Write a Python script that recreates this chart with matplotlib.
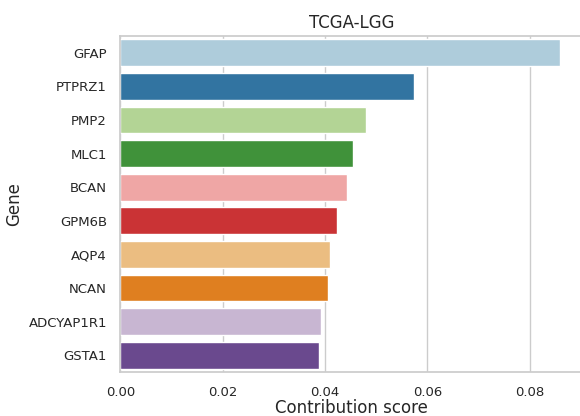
import matplotlib
matplotlib.use("Agg")
import matplotlib.pyplot as plt
import seaborn as sns
import pandas as pd

# geny a jejich prispevky
genes = ["GFAP", "PTPRZ1", "PMP2", "MLC1", "BCAN", "GPM6B", "AQP4", "NCAN", "ADCYAP1R1", "GSTA1"]
scores = [0.0860, 0.0574, 0.0481, 0.0454, 0.0443, 0.0423, 0.0410, 0.0405, 0.0393, 0.0388]

df = pd.DataFrame({"Gene": genes, "Contribution score": scores})

sns.set_theme(style="whitegrid")
fig = plt.figure(figsize=(5.8, 4.16), dpi=100)
# osa konci tesne za pravym okrajem obrazku (jako v predloze)
ax = fig.add_axes([120.3 / 580, 1 - 372 / 416, 462 / 580, (372 - 36) / 416])

sns.barplot(data=df, x="Contribution score", y="Gene", hue="Gene",
            palette="Paired", legend=False, ax=ax)
ax.set_xlim(0, 462 / 5117)
ax.set_xticks([0, 0.02, 0.04, 0.06, 0.08])
ax.set_xticklabels(["0.00", "0.02", "0.04", "0.06", "0.08"])
ax.tick_params(labelsize=9.5)
ax.tick_params(axis="x", pad=4)
ax.set_xlabel("Contribution score", fontsize=12, labelpad=0)
ax.set_ylabel("Gene", fontsize=12)
ax.set_title("TCGA-LGG", fontsize=12)

fig.savefig("out.png", dpi=100)
